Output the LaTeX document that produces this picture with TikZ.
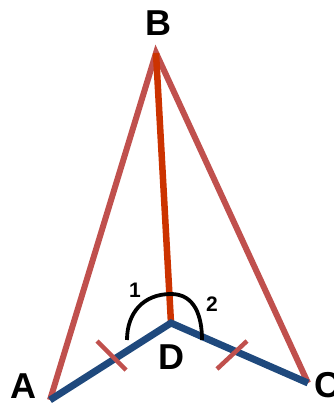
\documentclass[tikz,border=0pt]{standalone}
\usepackage{fontspec}
\setmainfont{Liberation Sans}
\definecolor{sidered}{HTML}{C0504D}
\definecolor{medorange}{HTML}{CC3300}
\definecolor{baseblue}{HTML}{1F497D}
\begin{document}
\begin{tikzpicture}[x=1pt,y=1pt,
  redside/.style={draw=sidered,line width=6pt},
  median/.style={draw=medorange,line width=6.5pt},
  blueside/.style={draw=baseblue,line width=7pt},
  tick/.style={draw=sidered,line width=4.5pt},
  anglearc/.style={draw=black,line width=3.8pt},
  biglab/.style={font=\bfseries\fontsize{36}{36}\selectfont,inner sep=0pt},
  smalllab/.style={font=\bfseries\fontsize{21}{21}\selectfont,inner sep=0pt}]
\useasboundingbox (0,0) rectangle (333,403);
\coordinate (A) at (50,3);
\coordinate (B) at (156,350);
\coordinate (C) at (308,20);
\coordinate (D) at (171,80);
% ticks
\coordinate (t1a) at (97,62);
\coordinate (t1b) at (126,33);
\coordinate (t2a) at (247,62);
\coordinate (t2b) at (217,34);
% arc
\coordinate (arcL) at (127,63);
\coordinate (arcT) at (171,109);
\coordinate (arcR) at (202,63);
\draw[redside] (A) -- (B) -- (C);
\draw[median] (B) -- (D);
\draw[blueside] (A) -- (D) -- (C);
\draw[tick] (t1a) -- (t1b);
\draw[tick] (t2a) -- (t2b);
\draw[anglearc] (arcL) to[out=90,in=180,looseness=1.1] (arcT) to[out=0,in=90,looseness=1.1] (arcR);
\node[biglab] (lB) at (158,380) {B};
\node[biglab] (lA) at (23,17) {A};
\node[biglab] (lC) at (327,18) {C};
\node[biglab] (lD) at (171,46) {D};
\node[smalllab] (l1) at (135,113) {1};
\node[smalllab] (l2) at (212,99) {2};
\end{tikzpicture}
\end{document}
